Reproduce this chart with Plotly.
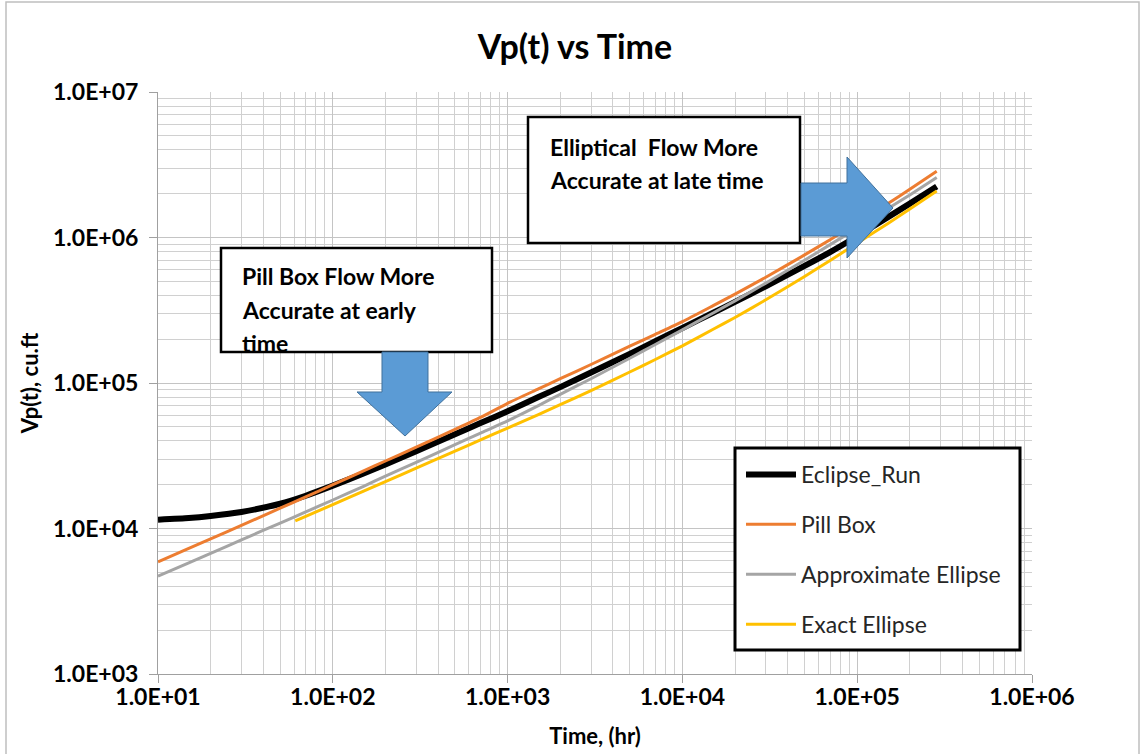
import plotly.graph_objects as go

# ---------------- data ----------------
time_hr = [10, 15, 20, 30, 50, 70, 100, 150, 200, 300, 500, 700, 1000, 1500, 2000,
           3000, 5000, 7000, 10000, 15000, 20000, 30000, 50000, 70000, 100000,
           150000, 200000, 285000]

eclipse_run = [1.15e4, 1.18e4, 1.22e4, 1.30e4, 1.48e4, 1.68e4, 1.97e4, 2.39e4, 2.75e4,
               3.40e4, 4.45e4, 5.30e4, 6.40e4, 8.00e4, 9.37e4, 1.18e5, 1.585e5, 1.94e5,
               2.39e5, 3.04e5, 3.61e5, 4.62e5, 6.38e5, 7.94e5, 1.02e6, 1.38e6, 1.71e6,
               2.24e6]

pill_box = [5.9e3, 7.31e3, 8.5e3, 1.05e4, 1.38e4, 1.65e4, 2.0e4, 2.49e4, 2.91e4, 3.62e4,
            4.8e4, 5.8e4, 7.25e4, 9.1e4, 1.07e5, 1.34e5, 1.79e5, 2.16e5, 2.64e5, 3.4e5,
            4.08e5, 5.33e5, 7.59e5, 9.66e5, 1.26e6, 1.71e6, 2.15e6, 2.85e6]

approx_ellipse = [4.7e3, 5.8e3, 6.75e3, 8.35e3, 1.09e4, 1.3e4, 1.57e4, 1.95e4, 2.29e4,
                  2.85e4, 3.77e4, 4.53e4, 5.5e4, 7.0e4, 8.36e4, 1.07e5, 1.48e5, 1.84e5,
                  2.32e5, 3.03e5, 3.67e5, 4.86e5, 6.98e5, 8.93e5, 1.16e6, 1.58e6, 1.96e6,
                  2.58e6]

exact_time = [61, 70, 100, 150, 200, 300, 500, 700, 1000, 1500, 2000, 3000, 5000, 7000,
              10000, 15000, 20000, 30000, 50000, 70000, 100000, 150000, 200000, 285000]
exact_ellipse = [1.13e4, 1.21e4, 1.46e4, 1.81e4, 2.1e4, 2.6e4, 3.4e4, 4.06e4, 4.9e4,
                 6.07e4, 7.1e4, 8.87e4, 1.19e5, 1.45e5, 1.8e5, 2.34e5, 2.82e5, 3.73e5,
                 5.4e5, 6.95e5, 9.14e5, 1.25e6, 1.57e6, 2.09e6]

x_tickvals = [1e1, 1e2, 1e3, 1e4, 1e5, 1e6]
x_ticktext = ["1.0E+01", "1.0E+02", "1.0E+03", "1.0E+04", "1.0E+05", "1.0E+06"]
y_tickvals = [1e3, 1e4, 1e5, 1e6, 1e7]
y_ticktext = ["1.0E+03", "1.0E+04", "1.0E+05", "1.0E+06", "1.0E+07"]

series_names = ["Eclipse_Run", "Pill Box", "Approximate Ellipse", "Exact Ellipse"]
series_colors = ["#000000", "#ED7D31", "#A5A5A5", "#FFC000"]

# ---------------- layout geometry ----------------
W, H = 1146, 754
L, R, T, B = 158, 1032, 92, 674
FONT = "Lato"


def px(xp):
    return (xp - L) / (R - L)


def py(yp):
    return (B - yp) / (B - T)


def minor_vals(lo, hi):
    vals = []
    for e in range(lo, hi):
        for d in range(2, 10):
            vals.append(d * 10 ** e)
    return vals


fig = go.Figure()
fig.add_trace(go.Scatter(x=time_hr, y=eclipse_run, name=series_names[0], mode="lines",
                         line=dict(color=series_colors[0], width=6, shape="spline", smoothing=0.5),
                         legendgroup="a"))
fig.add_trace(go.Scatter(x=time_hr, y=pill_box, name=series_names[1], mode="lines",
                         line=dict(color=series_colors[1], width=3, shape="spline", smoothing=0.5),
                         legendgroup="b"))
fig.add_trace(go.Scatter(x=time_hr, y=approx_ellipse, name=series_names[2], mode="lines",
                         line=dict(color=series_colors[2], width=3, shape="spline", smoothing=0.5),
                         legendgroup="c"))
fig.add_trace(go.Scatter(x=exact_time, y=exact_ellipse, name=series_names[3], mode="lines",
                         line=dict(color=series_colors[3], width=3, shape="spline", smoothing=0.5),
                         legendgroup="d"))

axis_common = dict(
    type="log", showgrid=True, gridcolor="#c4c4c4", gridwidth=1,
    showline=True, linecolor="#a0a0a0", linewidth=1,
    ticks="outside", ticklen=8, tickcolor="#a0a0a0",
    tickfont=dict(family=FONT, size=23, color="#000000", weight="bold"),
    zeroline=False,
)

fig.update_xaxes(**axis_common, range=[1, 6], tickmode="array",
                 tickvals=x_tickvals, ticktext=x_ticktext, ticklabelstandoff=-6,
                 minor=dict(tickmode="array", tickvals=minor_vals(1, 6), showgrid=True,
                            gridcolor="#d0d0d0", ticks=""),
                 title=dict(text="Time, (hr)", standoff=20,
                            font=dict(family=FONT, size=22, color="#000000", weight="bold")))
fig.update_yaxes(**axis_common, range=[3, 7], tickmode="array",
                 tickvals=y_tickvals, ticktext=y_ticktext, ticklabelstandoff=6,
                 minor=dict(tickmode="array", tickvals=minor_vals(3, 7), showgrid=True,
                            gridcolor="#d0d0d0", ticks=""),
                 title=dict(text="Vp(t), cu.ft", standoff=8,
                            font=dict(family=FONT, size=22, color="#000000", weight="bold")))

shapes = []
# outer chart border
shapes.append(dict(type="rect", xref="paper", yref="paper",
                   x0=px(6), x1=px(1139), y0=py(770), y1=py(2),
                   line=dict(color="#bfbfbf", width=1.5), fillcolor="rgba(0,0,0,0)",
                   layer="below"))

# text boxes
box_line = dict(color="#000000", width=2.5)
shapes.append(dict(type="rect", xref="paper", yref="paper",
                   x0=px(221), x1=px(492), y0=py(352), y1=py(248),
                   line=box_line, fillcolor="white"))
shapes.append(dict(type="rect", xref="paper", yref="paper",
                   x0=px(528), x1=px(800), y0=py(243), y1=py(117),
                   line=box_line, fillcolor="white"))
# legend box
shapes.append(dict(type="rect", xref="paper", yref="paper",
                   x0=px(735), x1=px(1020), y0=py(650), y1=py(448),
                   line=dict(color="#000000", width=3), fillcolor="white"))


def path_from(points):
    s = "M " + " L ".join(f"{px(a):.5f},{py(b):.5f}" for a, b in points) + " Z"
    return s


arrow_fill = "#5B9BD5"
arrow_line = dict(color="#41719C", width=1)
# down arrow
down_pts = [(382, 352), (428, 352), (428, 392), (452, 392), (405, 436), (357, 392), (382, 392)]
shapes.append(dict(type="path", xref="paper", yref="paper", path=path_from(down_pts),
                   fillcolor=arrow_fill, line=arrow_line))
# right arrow
right_pts = [(801, 183), (847, 183), (847, 157), (893, 208), (847, 258), (847, 236), (801, 236)]
shapes.append(dict(type="path", xref="paper", yref="paper", path=path_from(right_pts),
                   fillcolor=arrow_fill, line=arrow_line))

ann_font = dict(family=FONT, size=23, color="#000000", weight="bold")
text_lines = [
    ("Pill Box Flow More", 240, 276),
    ("Accurate at early", 240, 310),
    ("time", 240, 343),
    ("Elliptical  Flow More", 548, 147),
    ("Accurate at late time", 548, 180),
]
annotations = [
    dict(xref="paper", yref="paper", x=px(xx), y=py(yy), xanchor="left", yanchor="middle",
         align="left", showarrow=False, font=ann_font, text=t)
    for t, xx, yy in text_lines
]

fig.update_layout(
    width=W, height=H,
    margin=dict(l=L, r=W - R, t=T, b=H - B, autoexpand=False),
    paper_bgcolor="white", plot_bgcolor="white",
    title=dict(text="Vp(t) vs Time", x=575 / W, xanchor="center", y=1 - 47 / H,
               yanchor="middle", font=dict(family=FONT, size=34, color="#000000", weight="bold")),
    shapes=shapes, annotations=annotations,
    legend=dict(x=px(741), y=py(453), xanchor="left", yanchor="top",
                bgcolor="rgba(0,0,0,0)", borderwidth=0, tracegroupgap=17,
                font=dict(family=FONT, size=23, color="#262626"),
                itemwidth=50),
    showlegend=True,
)

fig.write_html("out.html")
